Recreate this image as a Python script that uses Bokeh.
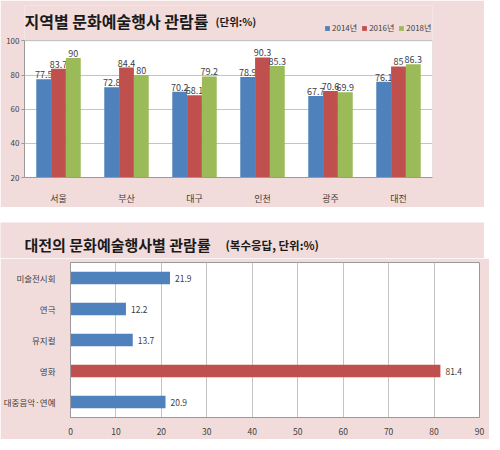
from bokeh.plotting import figure
from bokeh.models import FactorRange, Label, Legend, LegendItem, ColumnDataSource, Spacer, BoxAnnotation
from bokeh.transform import dodge
from bokeh.layouts import column
from bokeh.core.properties import value
from bokeh.embed import file_html
from bokeh.resources import INLINE

# ---- data ----
regions = ["서울", "부산", "대구", "인천", "광주", "대전"]
years = ["2014년", "2016년", "2018년"]
rate_2014 = [77.5, 72.8, 70.2, 78.9, 67.7, 76.1]
rate_2016 = [83.7, 84.4, 68.1, 90.3, 70.6, 85]
rate_2018 = [90, 80, 79.2, 85.3, 69.9, 86.3]
y_ticks = [20, 40, 60, 80, 100]

events = ["미술전시회", "연극", "뮤지컬", "영화", "대중음악·연예"]
event_rate = [21.9, 12.2, 13.7, 81.4, 20.9]
highlight = "영화"
x_ticks = [0, 10, 20, 30, 40, 50, 60, 70, 80, 90]

title1 = "지역별 문화예술행사 관람률"
unit1 = "(단위:%)"
title2 = "대전의 문화예술행사별 관람률"
unit2 = "(복수응답, 단위:%)"

# ---- style ----
FONT = "Noto Sans CJK KR"
PINK = "#f2dcdb"
BLUE, RED, GREEN = "#4f81bd", "#c0504d", "#9bbb59"
TXT = "#404040"
TITLE = "#1a1a1a"
GRID = "#c4c4c4"
AXIS = "#9a9a9a"


def fmt(v):
    return f"{v:g}"


def no_align(f):
    if "frame_align" in f.properties():
        f.frame_align = False


# ---- top chart ----
src1 = ColumnDataSource(dict(
    region=regions,
    y14=rate_2014, y16=rate_2016, y18=rate_2018,
    l14=[fmt(v) for v in rate_2014],
    l16=[fmt(v) for v in rate_2016],
    l18=[fmt(v) for v in rate_2018],
))

# frame is extended upward so the title and legend sit inside it
p1 = figure(x_range=FactorRange(*regions), y_range=(20, 120.7),
            frame_width=408, frame_height=172,
            min_border_left=24, min_border_right=52, min_border_top=5, min_border_bottom=25,
            output_backend="svg", toolbar_location=None,
            background_fill_color=PINK, border_fill_color=PINK,
            outline_line_color=None)
no_align(p1)

p1.add_layout(BoxAnnotation(bottom=20, top=100, fill_color="white", fill_alpha=1,
                            line_color=AXIS, line_width=1, level="image"))

w = 0.218
rends = []
for off, col, fld, lab in [(-w, BLUE, "y14", "l14"), (0, RED, "y16", "l16"), (w, GREEN, "y18", "l18")]:
    r = p1.vbar(x=dodge("region", off, range=p1.x_range), top=fld, bottom=0, width=w,
                source=src1, fill_color=col, line_color=None)
    rends.append(r)
    p1.text(x=dodge("region", off, range=p1.x_range), y=fld, text=lab, source=src1,
            text_align="center", text_baseline="bottom", y_offset=-1,
            text_font=value(FONT), text_font_size="9px", text_color=TXT)

p1.xgrid.grid_line_color = None
p1.ygrid.grid_line_color = GRID
p1.yaxis.ticker = y_ticks
p1.yaxis.bounds = (20, 100)
p1.yaxis.axis_line_color = AXIS
p1.yaxis.major_tick_line_color = AXIS
p1.yaxis.major_tick_out = 3
p1.yaxis.major_tick_in = 0
p1.yaxis.minor_tick_line_color = None
p1.yaxis.major_label_standoff = 2
p1.xaxis.axis_line_color = AXIS
p1.xaxis.major_tick_line_color = None
p1.xaxis.major_label_standoff = 8
for ax in (p1.xaxis, p1.yaxis):
    ax.major_label_text_font = FONT
    ax.major_label_text_color = TXT
p1.yaxis.major_label_text_font_size = "8px"
p1.xaxis.major_label_text_font_size = "9px"

legend = Legend(items=[LegendItem(label=y, renderers=[r]) for y, r in zip(years, rends)],
                orientation="horizontal", location=(300, 144),
                label_text_font=FONT, label_text_font_size="8px", label_text_color=TXT,
                glyph_width=6, glyph_height=6, label_standoff=2, spacing=4,
                padding=0, margin=0, label_height=10, label_width=10,
                border_line_color=None, background_fill_alpha=0)
p1.add_layout(legend)

p1.add_layout(Label(x=0, y=111.6, text=title1, text_font=FONT, text_font_style="bold",
                    text_font_size="16px", text_baseline="middle", text_color=TITLE))
p1.add_layout(Label(x=0, y=111.2, x_offset=191, text=unit1, text_font=FONT, text_font_style="bold",
                    text_font_size="10.5px", text_baseline="middle", text_color=TITLE))

# ---- bottom chart: header strip with title ----
h2 = figure(width=484, height=36, x_range=(0, 484), y_range=(0, 36),
            x_axis_type=None, y_axis_type=None, min_border=0,
            output_backend="svg", toolbar_location=None,
            background_fill_color=PINK, border_fill_color=PINK, outline_line_color=None)
no_align(h2)
h2.xgrid.visible = False
h2.ygrid.visible = False
h2.add_layout(Label(x=24, y=14, text=title2, text_font=FONT, text_font_style="bold",
                    text_font_size="15px", text_baseline="middle", text_color=TITLE))
h2.add_layout(Label(x=225, y=14, text=unit2, text_font=FONT, text_font_style="bold",
                    text_font_size="11.5px", text_baseline="middle", text_color=TITLE))

src2 = ColumnDataSource(dict(
    event=events, rate=event_rate,
    label=[fmt(v) for v in event_rate],
    color=[RED if e == highlight else BLUE for e in events],
))

p2 = figure(y_range=FactorRange(*reversed(events)), x_range=(0, 90),
            frame_width=409, frame_height=155,
            min_border_left=65, min_border_right=10, min_border_top=4, min_border_bottom=22,
            output_backend="svg", toolbar_location=None,
            background_fill_color="white", border_fill_color=PINK,
            outline_line_color=AXIS)
no_align(p2)

p2.hbar(y="event", right="rate", left=0, height=0.41, source=src2,
        fill_color="color", line_color=None)
p2.text(x="rate", y="event", text="label", source=src2, x_offset=5,
        text_align="left", text_baseline="middle",
        text_font=value(FONT), text_font_size="8.5px", text_color=TXT)

p2.ygrid.grid_line_color = None
p2.xgrid.grid_line_color = GRID
p2.xaxis.ticker = x_ticks
p2.xaxis.axis_line_color = AXIS
p2.xaxis.major_tick_line_color = None
p2.xaxis.minor_tick_line_color = None
p2.xaxis.major_label_standoff = 4
p2.yaxis.axis_line_color = AXIS
p2.yaxis.major_tick_line_color = None
p2.yaxis.major_label_standoff = 9
for ax in (p2.xaxis, p2.yaxis):
    ax.major_label_text_font = FONT
    ax.major_label_text_color = TXT
    ax.major_label_text_font_size = "8.5px"

layout = column(p1, Spacer(height=15), h2, p2, spacing=0)
open("out.html", "w").write(file_html(layout, INLINE))
